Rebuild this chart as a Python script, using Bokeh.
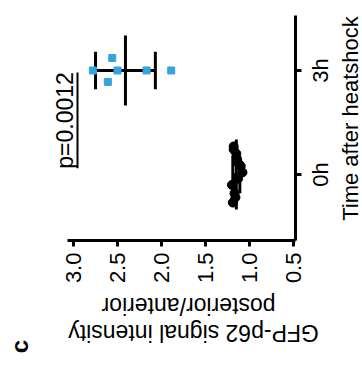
import math
from bokeh.plotting import figure
from bokeh.models import Range1d, FixedTicker, ColumnDataSource, PrintfTickFormatter
from bokeh.core.properties import value
from bokeh.embed import file_html
from bokeh.resources import INLINE

# ---- data ----
categories = ["0h", "3h"]
h0_values = [1.19, 1.18, 1.12, 1.08, 1.15, 1.17, 1.10, 1.20, 1.14, 1.16, 1.13, 1.18]
h0_offsets = [-0.27, 0.27, 0.10, 0.02, 0.20, -0.18, 0.08, -0.10, 0.14, -0.22, -0.04, 0.24]
h3_values = [2.78, 2.56, 2.50, 2.61, 2.17, 1.89]
h3_offsets = [0.0, 0.12, 0.0, -0.11, 0.0, 0.0]
means = [1.15, 2.41]
sds = [0.04, 0.34]
value_ticks = [0.5, 1.0, 1.5, 2.0, 2.5, 3.0]
p_text = "p=0.0012"
x_title = "Time after heatshock"
y_title = ["posterior/anterior", "GFP-p62 signal intensity"]
panel_label = "c"

FONT = "Liberation Sans"
BLUE = "#35A4DD"

# frame covers the whole canvas; axes are fixed inside it
p = figure(width=362, height=367, output_backend="svg", toolbar_location=None,
           x_range=Range1d(3.83, -0.284), y_range=Range1d(-1.856, 1.673),
           y_axis_location="right", min_border=0)
p.outline_line_color = None
p.grid.visible = False
p.background_fill_color = "white"
p.border_fill_color = "white"

XAXIS_AT = -0.635   # y value where the value axis sits
YAXIS_AT = 0.477    # x value where the category axis sits

xa = p.xaxis[0]
xa.fixed_location = XAXIS_AT
xa.ticker = FixedTicker(ticks=value_ticks)
xa.formatter = PrintfTickFormatter(format="%.1f")
xa.bounds = (0.477, 3.07)
xa.major_label_orientation = math.pi / 2
xa.major_label_text_font = FONT
xa.major_label_text_font_size = "22px"
xa.major_label_text_color = "black"
xa.major_label_standoff = 6

ya = p.yaxis[0]
ya.fixed_location = YAXIS_AT
ya.ticker = FixedTicker(ticks=list(range(len(categories))))
ya.major_label_text_font_size = "0px"
ya.major_label_text_color = None
ya.bounds = (-0.635, 1.529)
for ax in (xa, ya):
    ax.axis_line_width = 3
    ax.axis_line_color = "black"
    ax.major_tick_line_width = 3
    ax.major_tick_line_color = "black"
    ax.major_tick_out = 6
    ax.major_tick_in = 0
    ax.minor_tick_line_color = None


def txt(x, y, t, angle, size="22px", bold=False):
    p.text(x=[x], y=[y], text=[t], angle=angle, text_align="center",
           text_baseline="middle", text_font=value(FONT), text_font_size=value(size),
           text_color="black", text_font_style="bold" if bold else "normal")


# category tick labels (read bottom-to-top)
for i, c in enumerate(categories):
    txt(YAXIS_AT - 0.28, i, c, math.pi / 2)

MEAN_HALF = 0.337
CAP_HALF = 0.18
for i, (m, s) in enumerate(zip(means, sds)):
    p.segment(x0=[m], y0=[i - MEAN_HALF], x1=[m], y1=[i + MEAN_HALF],
              line_width=3, line_color="black")
    p.segment(x0=[m - s], y0=[i], x1=[m + s], y1=[i], line_width=3, line_color="black")
    p.segment(x0=[m - s, m + s], y0=[i - CAP_HALF] * 2, x1=[m - s, m + s],
              y1=[i + CAP_HALF] * 2, line_width=3, line_color="black")

src0 = ColumnDataSource(dict(x=h0_values, y=[0 + o for o in h0_offsets]))
p.scatter("x", "y", source=src0, marker="circle", size=9, fill_color="black",
          line_color="black")
src3 = ColumnDataSource(dict(x=h3_values, y=[1 + o for o in h3_offsets]))
p.scatter("x", "y", source=src3, marker="square", size=7, fill_color=BLUE,
          line_color=BLUE)

# significance bar + p text
p.segment(x0=[2.955], y0=[0.06], x1=[2.955], y1=[0.98], line_width=2, line_color="black")
txt(3.10, 0.52, p_text, math.pi / 2, size="23px")

# axis titles and panel label
txt(-0.15, 0.538, x_title, math.pi / 2)
txt(1.693, -1.26, y_title[0], math.pi, size="23px")
txt(1.636, -1.529, y_title[1], math.pi, size="23px")
txt(3.614, -1.654, panel_label, math.pi / 2, size="24px", bold=True)

open("out.html", "w").write(file_html(p, INLINE))
